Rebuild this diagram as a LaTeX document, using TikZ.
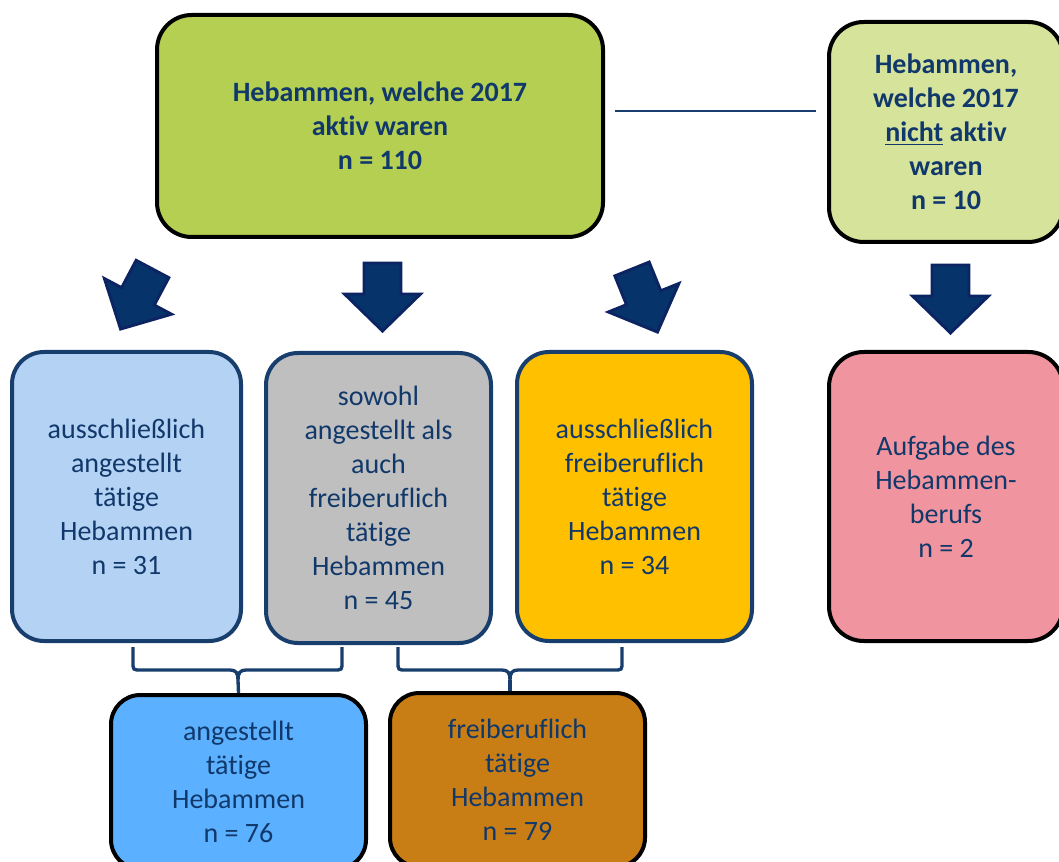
\documentclass[tikz,border=0pt]{standalone}
\usepackage{fontspec}
\setmainfont{Carlito}[Ligatures={NoCommon}]

\definecolor{textblue}{HTML}{11386A}
\definecolor{boxborder}{HTML}{173E6C}
\definecolor{arrowfill}{HTML}{06346A}
\definecolor{arrowline}{HTML}{0C2462}
\definecolor{activegreen}{HTML}{B4CF52}
\definecolor{inactivegreen}{HTML}{D5E39B}
\definecolor{employedblue}{HTML}{B4D2F3}
\definecolor{mixedgray}{HTML}{BFBFBF}
\definecolor{freelanceyellow}{HTML}{FFC000}
\definecolor{quitpink}{HTML}{F0959F}
\definecolor{sumblue}{HTML}{5BB1FF}
\definecolor{sumbrown}{HTML}{C97E15}

\begin{document}
\begin{tikzpicture}[
                x=0.75pt, y=-0.75pt,
                every node/.style={rectangle, align=center, inner sep=0pt, text=textblue,
                        font=\fontsize{21}{25.5}\selectfont},
                mainbox/.style={draw=black, line width=3pt, rounded corners=26pt},
                groupbox/.style={draw=boxborder, line width=3pt, rounded corners=24pt},
                sumbox/.style={draw=black, line width=3pt, rounded corners=22pt},
                bracket/.style={draw=boxborder, line width=2.5pt},
                link/.style={draw=boxborder, line width=1.6pt},
                blockarrow/.pic={
                        \draw[fill=arrowfill, draw=arrowline, line width=2.2pt]
                        (-18.5,0) -- (18.5,0) -- (18.5,31) -- (38,31) -- (0,68)
                        -- (-38,31) -- (-18.5,31) -- cycle;
                    }
            ]

            \useasboundingbox (0,0) rectangle (1059,862);

            \node[mainbox, fill=activegreen, minimum width=334.5pt, minimum height=166.5pt,
                font=\fontsize{21}{25.5}\selectfont\bfseries] (active) at (380,126)
                {Hebammen, welche 2017\\aktiv waren\\n = 110};
            \node[mainbox, fill=inactivegreen, minimum width=175.5pt, minimum height=165pt,
                font=\fontsize{21}{25.5}\selectfont\bfseries] (inactive) at (946,132)
                {Hebammen,\\welche 2017\\\underline{nicht} aktiv\\waren\\n = 10};

            \draw[link] ([shift={(10,-15)}]active.east) -- ([shift={(-11,-21)}]inactive.west);

            \pic[rotate=-28] at (152.5,269) {blockarrow};
            \pic at (382.5,263) {blockarrow};
            \pic[rotate=22] at (632,269) {blockarrow};
            \pic at (950.5,265) {blockarrow};

            \node[groupbox, fill=employedblue, minimum width=171.75pt, minimum height=216.75pt]
                (employed) at (126.5,496.5)
                {ausschließlich\\angestellt\\tätige\\Hebammen\\n = 31};
            \node[groupbox, fill=mixedgray, minimum width=168.75pt, minimum height=217.5pt]
                (mixed) at (378.5,498)
                {sowohl\\angestellt als\\auch\\freiberuflich\\tätige\\Hebammen\\n = 45};
            \node[groupbox, fill=freelanceyellow, minimum width=176.25pt, minimum height=216.75pt]
                (freelance) at (634.5,496.5)
                {ausschließlich\\freiberuflich\\tätige\\Hebammen\\n = 34};
            \node[mainbox, fill=quitpink, minimum width=175.5pt, minimum height=216.75pt]
                (quit) at (946,496.5)
                {Aufgabe des\\Hebammen-\\berufs\\n = 2};

            \node[sumbox, fill=sumblue, minimum width=191.25pt, minimum height=130.5pt]
                (allemployed) at (238.5,782)
                {angestellt\\tätige\\Hebammen\\n = 76};
            \node[sumbox, fill=sumbrown, minimum width=191.25pt, minimum height=130.5pt]
                (allfreelance) at (517.5,780)
                {freiberuflich\\tätige\\Hebammen\\n = 79};

            \draw[bracket] (133,647) -- (133,662) .. controls (133,670) .. (141,670)
                -- (230,670) .. controls (236,670) and (238,673) .. (238,680)
                .. controls (238,673) and (240,670) .. (246,670)
                -- (334,670) .. controls (342,670) .. (342,662) -- (342,647);
            \draw[bracket] (238,680) -- (allemployed.north);

            \draw[bracket] (398,647) -- (398,662) .. controls (398,670) .. (406,670)
                -- (502,670) .. controls (508,670) and (510,673) .. (510,680)
                .. controls (510,673) and (512,670) .. (518,670)
                -- (614,670) .. controls (622,670) .. (622,662) -- (622,647);
            \draw[bracket] (510,680) -- (allfreelance.north -| 510,0);

        \end{tikzpicture}
\end{document}
